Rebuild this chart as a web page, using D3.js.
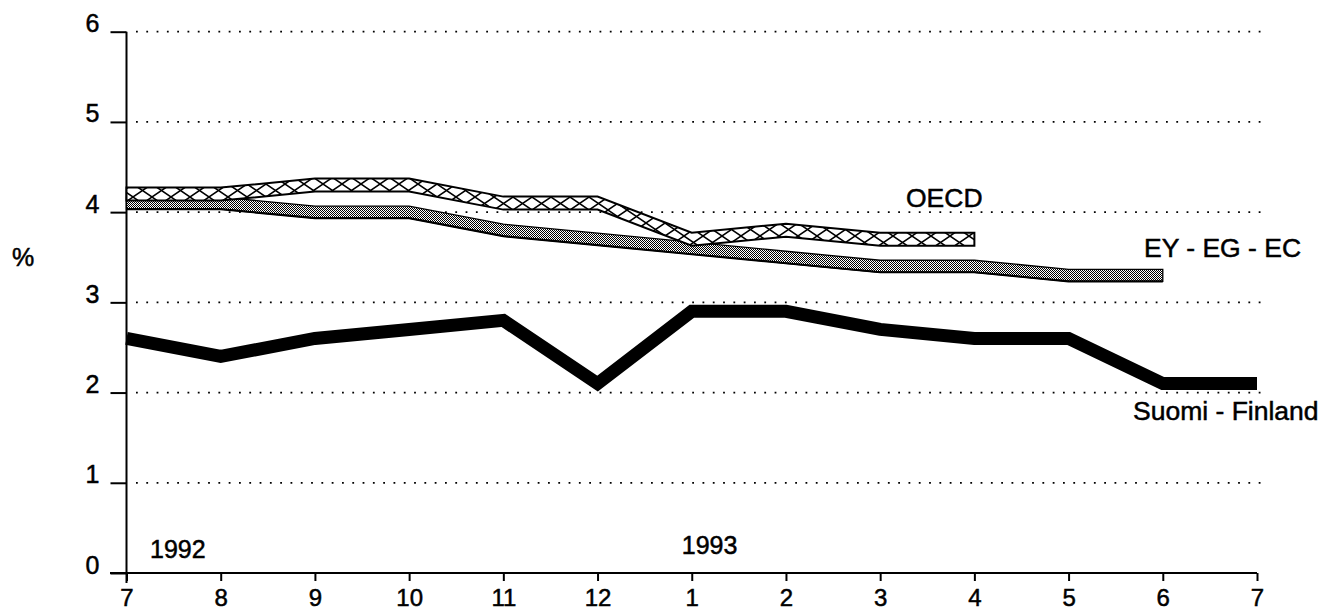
<!DOCTYPE html>
<html>
<head>
<meta charset="utf-8">
<script src="https://cdn.jsdelivr.net/npm/d3@7"></script>
<style>
  html, body { margin: 0; padding: 0; background: #fff; }
  svg { display: block; }
  text { font-family: "Liberation Sans", Arial, Helvetica, sans-serif; fill: #000; stroke: #000; stroke-width: 0.5px; }
</style>
</head>
<body>
<svg id="chart" width="1335" height="611"></svg>
<script>
// ---- data ----
const monthLabels = ["7","8","9","10","11","12","1","2","3","4","5","6","7"];
const yTicks = [0, 1, 2, 3, 4, 5, 6];
const yearLabels = [{ label: "1992", idx: 0.25 }, { label: "1993", idx: 6.0 }];
const finland = [2.6, 2.4, 2.6, 2.7, 2.8, 2.1, 2.9, 2.9, 2.7, 2.6, 2.6, 2.1, 2.1];
const ec      = [4.1, 4.1, 4.0, 4.0, 3.8, 3.7, 3.6, 3.5, 3.4, 3.4, 3.3, 3.3];
const oecd    = [4.2, 4.2, 4.3, 4.3, 4.1, 4.1, 3.7, 3.8, 3.7, 3.7];
const seriesNames = { oecd: "OECD", ec: "EY - EG - EC", finland: "Suomi - Finland" };

// ---- layout ----
const svg = d3.select("#chart");
const x = d3.scaleLinear().domain([0, 12]).range([126.5, 1257]);
const y = d3.scaleLinear().domain([0, 6]).range([573, 31.7]);

const defs = svg.append("defs");
// cross-hatch pattern for OECD
const pc = defs.append("pattern").attr("id", "cross").attr("patternUnits", "userSpaceOnUse")
  .attr("width", 19).attr("height", 13).attr("y", 2);
pc.append("rect").attr("width", 19).attr("height", 13).attr("fill", "#fff");
pc.append("path").attr("d", "M0,0 L19,13 M19,0 L0,13 M-1,12 L1,14 M18,-1 L20,1")
  .attr("stroke", "#000").attr("stroke-width", 1.5).attr("fill", "none");
// halftone pattern for EC
const pd = defs.append("pattern").attr("id", "dots").attr("patternUnits", "userSpaceOnUse")
  .attr("width", 2).attr("height", 2);
pd.append("rect").attr("width", 2).attr("height", 2).attr("fill", "#fff");
pd.append("rect").attr("x", 0).attr("y", 0).attr("width", 1).attr("height", 1).attr("fill", "#000");
pd.append("rect").attr("x", 1).attr("y", 1).attr("width", 1).attr("height", 1).attr("fill", "#000");

// ---- gridlines ----
svg.append("g").selectAll("line").data(yTicks.filter(d => d > 0)).join("line")
  .attr("x1", 136).attr("x2", 1262)
  .attr("y1", d => y(d)).attr("y2", d => y(d))
  .attr("stroke", "#000").attr("stroke-width", 1.8)
  .attr("stroke-dasharray", "1.8 8.5");

// ---- axes ----
const yAxis = svg.append("g").attr("transform", `translate(${x(0)},0)`)
  .call(d3.axisLeft(y).tickValues(yTicks).tickSize(16).tickFormat(d3.format("d")));
yAxis.select(".domain").remove();
yAxis.selectAll(".tick line").attr("stroke", "#000").attr("stroke-width", 2);
yAxis.selectAll(".tick text").attr("x", -34).attr("dy", 0).attr("y", 0)
  .attr("text-anchor", "middle").attr("font-size", 25).attr("font-family", null);

const xAxis = svg.append("g").attr("transform", `translate(0,${y(0)})`)
  .call(d3.axisBottom(x).tickValues(d3.range(monthLabels.length)).tickSize(8)
    .tickFormat(i => monthLabels[i]));
xAxis.select(".domain").remove();
xAxis.selectAll(".tick line").attr("stroke", "#000").attr("stroke-width", 2);
xAxis.selectAll(".tick text").attr("y", 33).attr("dy", 0)
  .attr("font-size", 24).attr("font-family", null);

// axis lines
svg.append("line").attr("x1", x(0)).attr("x2", x(0)).attr("y1", y(6)).attr("y2", y(0) + 10)
  .attr("stroke", "#000").attr("stroke-width", 2);
svg.append("line").attr("x1", 110).attr("x2", x(12)).attr("y1", y(0)).attr("y2", y(0))
  .attr("stroke", "#000").attr("stroke-width", 2);

// ---- series ----
const band = (half) => d3.area()
  .x((d, i) => x(i))
  .y0(d => y(d) + half)
  .y1(d => y(d) - half);

// EC band
svg.append("path").datum(ec).attr("d", band(6)).attr("fill", "url(#dots)")
  .attr("stroke", "#000").attr("stroke-width", 1.3);
svg.append("path").datum(ec)
  .attr("d", d3.line().x((d, i) => x(i)).y(d => y(d) + 6))
  .attr("fill", "none").attr("stroke", "#000").attr("stroke-width", 2.2);

// OECD band
svg.append("path").datum(oecd).attr("d", band(6.5)).attr("fill", "url(#cross)")
  .attr("stroke", "#000").attr("stroke-width", 2);

// Finland thick line
svg.append("path").datum(finland)
  .attr("d", d3.line().x((d, i) => x(i)).y(d => y(d)))
  .attr("fill", "none").attr("stroke", "#000").attr("stroke-width", 13)
  .attr("stroke-linejoin", "miter").attr("stroke-linecap", "butt");

// ---- labels ----
svg.append("text").attr("x", 906).attr("y", 207).attr("font-size", 26.5).text(seriesNames.oecd);
svg.append("text").attr("x", 1144).attr("y", 257).attr("font-size", 26.5).text(seriesNames.ec);
svg.append("text").attr("x", 1133).attr("y", 420).attr("font-size", 26.5).text(seriesNames.finland);

svg.append("text").attr("x", 23).attr("y", 266).attr("text-anchor", "middle")
  .attr("font-size", 25).text("%");

svg.selectAll(".year").data(yearLabels).join("text").attr("class", "year")
  .attr("x", d => x(d.idx) + (d.idx === 0.25 ? 0 : -10))
  .attr("y", (d, i) => i === 0 ? 558 : 554)
  .attr("font-size", 25).text(d => d.label);
</script>
</body>
</html>
